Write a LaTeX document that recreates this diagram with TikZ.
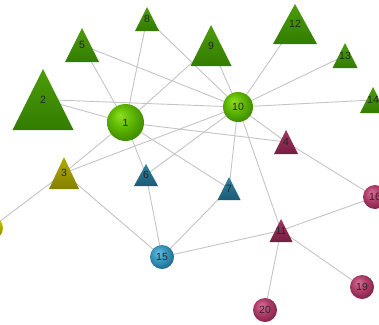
\documentclass[tikz,border=0pt]{standalone}
\usepackage{fontspec}
\setmainfont{Liberation Sans}
\pgfdeclarelayer{background}
\pgfsetlayers{background,main}
\definecolor{gA}{HTML}{4C9C0A}
\definecolor{gB}{HTML}{68C41A}
\definecolor{gC}{HTML}{337C00}
\definecolor{gL}{HTML}{8CE020}
\definecolor{gM}{HTML}{5CB400}
\definecolor{gD}{HTML}{347C00}
\definecolor{yA}{HTML}{B0AC00}
\definecolor{yB}{HTML}{D4D000}
\definecolor{yC}{HTML}{848000}
\definecolor{bA}{HTML}{2E84A4}
\definecolor{bB}{HTML}{44A4C8}
\definecolor{bC}{HTML}{1C5A74}
\definecolor{bL}{HTML}{62C0E4}
\definecolor{bM}{HTML}{3694BC}
\definecolor{bD}{HTML}{1C5C7A}
\definecolor{rA}{HTML}{A03862}
\definecolor{rB}{HTML}{BC4C7C}
\definecolor{rC}{HTML}{741E40}
\definecolor{rL}{HTML}{D8709A}
\definecolor{rM}{HTML}{AE3C68}
\definecolor{rD}{HTML}{701C3E}
\definecolor{edgegray}{HTML}{C4C4C4}
\pgfdeclareradialshading{sphG}{\pgfpoint{-8bp}{10bp}}{color(0bp)=(gL); color(16bp)=(gM); color(34bp)=(gD); color(50bp)=(gD)}
\pgfdeclareradialshading{sphB}{\pgfpoint{-8bp}{10bp}}{color(0bp)=(bL); color(16bp)=(bM); color(34bp)=(bD); color(50bp)=(bD)}
\pgfdeclareradialshading{sphR}{\pgfpoint{-8bp}{10bp}}{color(0bp)=(rL); color(16bp)=(rM); color(34bp)=(rD); color(50bp)=(rD)}
\tikzset{
  greentri/.style={top color=gA, middle color=gB, bottom color=gC},
  yellowtri/.style={top color=yA, middle color=yB, bottom color=yC},
  bluetri/.style={top color=bA, middle color=bB, bottom color=bC},
  redtri/.style={top color=rA, middle color=rB, bottom color=rC},
  lbl/.style={inner sep=0pt, font=\fontsize{10.5}{11}\selectfont, text=black!85},
  edge/.style={draw=edgegray, line width=0.9pt}
}
% #1 label, #2 x, #3 apex y, #4 base y, #5 half width, #6 style
\newcommand\mytri[6]{%
  \path[#6] (#2,#3) -- ({#2+#5},#4) -- ({#2-#5},#4) -- cycle;
  \node[lbl] (n#1) at (#2,{(#3+#4)/2}) {#1};
}
% #1 label, #2 x, #3 y, #4 radius, #5 shading
\newcommand\myball[5]{%
  \shade[shading=#5] (#2,#3) circle (#4pt);
  \node[lbl] (n#1) at (#2,#3) {#1};
}
\begin{document}
\begin{tikzpicture}[x=1pt,y=-1pt]
\useasboundingbox (0,0) rectangle (379,324);
\clip (0,0) rectangle (379,324);
\mytri{2}{43}{69}{130}{30.5}{greentri}
\mytri{5}{82}{28}{62}{17}{greentri}
\mytri{8}{147}{7}{31}{12}{greentri}
\mytri{9}{211}{25}{66}{20.5}{greentri}
\mytri{12}{295}{4}{44}{22}{greentri}
\mytri{13}{345}{43}{68}{12.5}{greentri}
\mytri{14}{373}{87}{113}{13}{greentri}
\mytri{3}{64}{157}{189}{15}{yellowtri}
\mytri{6}{146}{164}{186}{12}{bluetri}
\mytri{7}{229}{177}{200}{11.5}{bluetri}
\mytri{4}{286}{130}{154}{12}{redtri}
\mytri{11}{281}{219}{242}{11.5}{redtri}
\myball{1}{125.5}{122.5}{18.5}{sphG}
\myball{10}{238}{107}{15}{sphG}
\myball{15}{162}{257}{12}{sphB}
\myball{16}{375}{197}{12}{sphR}
\myball{19}{362}{287}{12}{sphR}
\myball{20}{265}{310}{12}{sphR}
\shade[top color=yB, bottom color=yC] (-9,228) circle (12pt);
\coordinate (n17) at (-9,228);
\begin{pgfonlayer}{background}
\foreach \a/\b in {1/5,1/8,1/2,1/3,1/6,1/7,1/9,1/4,
  2/10,5/10,8/10,9/10,10/12,10/13,10/14,10/3,10/6,10/7,10/11,10/4,
  3/15,3/17,6/15,7/15,15/11,11/16,4/16,11/19,11/20}
  \draw[edge] (n\a.center) -- (n\b.center);
\end{pgfonlayer}
\end{tikzpicture}
\end{document}
